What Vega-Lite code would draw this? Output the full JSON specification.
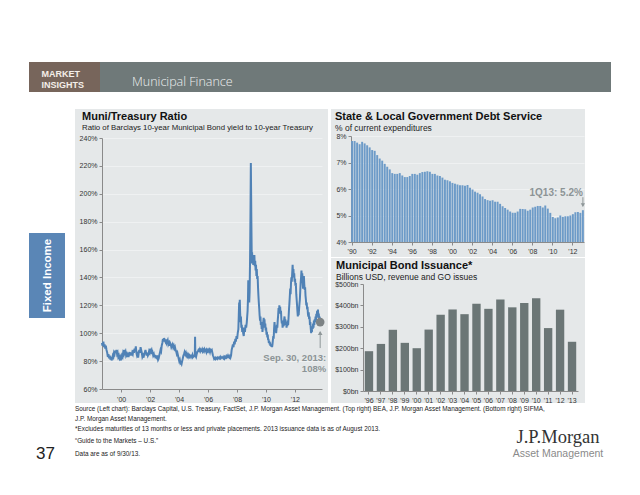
{
  "$schema": "https://vega.github.io/schema/vega-lite/v6.json",
  "padding": {"left": 29, "top": 62, "right": 0, "bottom": 0},
  "background": "#ffffff",
  "spacing": 17,
  "config": {
    "font": "Liberation Sans",
    "view": {"stroke": null},
    "axis": {"labelFont": "Liberation Sans", "labelFontSize": 7, "labelColor": "#333333", "domainColor": "#8a8a8a", "tickColor": "#8a8a8a", "tickSize": 3, "labelPadding": 2, "grid": false, "labelOverlap": false},
    "title": {"font": "Liberation Sans", "fontWeight": "bold", "fontSize": 11, "color": "#111111", "subtitleFont": "Liberation Sans", "subtitleFontSize": 8.5, "subtitleColor": "#222222", "subtitlePadding": 2, "anchor": "start", "frame": "group"}
  },
  "datasets": {
    "muni": [
      {"date":"1998-09-01","ratio":93},{"date":"1998-09-20","ratio":91},{"date":"1998-10-10","ratio":94},{"date":"1998-10-25","ratio":90},{"date":"1998-11-10","ratio":92},{"date":"1998-11-25","ratio":89},{"date":"1998-12-10","ratio":91},{"date":"1998-12-28","ratio":88},
      {"date":"1999-01-15","ratio":86},{"date":"1999-01-30","ratio":83},{"date":"1999-02-15","ratio":85},{"date":"1999-03-01","ratio":82},{"date":"1999-03-20","ratio":84},{"date":"1999-04-05","ratio":81},{"date":"1999-04-20","ratio":83},{"date":"1999-05-05","ratio":80.5},{"date":"1999-05-20","ratio":82},{"date":"1999-06-05","ratio":84},{"date":"1999-06-20","ratio":83},{"date":"1999-07-05","ratio":86},{"date":"1999-07-20","ratio":85},{"date":"1999-08-05","ratio":87.5},{"date":"1999-08-20","ratio":86},{"date":"1999-09-05","ratio":88},{"date":"1999-09-20","ratio":85},{"date":"1999-10-05","ratio":86},{"date":"1999-10-20","ratio":83},{"date":"1999-11-05","ratio":84},{"date":"1999-11-20","ratio":82},{"date":"1999-12-05","ratio":83},{"date":"1999-12-20","ratio":80.5},
      {"date":"2000-01-05","ratio":82},{"date":"2000-01-20","ratio":84},{"date":"2000-02-05","ratio":83},{"date":"2000-02-20","ratio":86},{"date":"2000-03-05","ratio":85},{"date":"2000-03-20","ratio":88},{"date":"2000-04-05","ratio":86},{"date":"2000-04-20","ratio":87},{"date":"2000-05-05","ratio":84},{"date":"2000-05-20","ratio":85},{"date":"2000-06-05","ratio":83},{"date":"2000-06-20","ratio":84.5},{"date":"2000-07-05","ratio":83},{"date":"2000-07-20","ratio":85},{"date":"2000-08-05","ratio":86.5},{"date":"2000-08-20","ratio":84},{"date":"2000-09-05","ratio":86},{"date":"2000-09-20","ratio":84},{"date":"2000-10-05","ratio":86},{"date":"2000-10-20","ratio":85},{"date":"2000-11-05","ratio":88},{"date":"2000-11-20","ratio":86},{"date":"2000-12-05","ratio":89},{"date":"2000-12-20","ratio":87},
      {"date":"2001-01-05","ratio":90.5},{"date":"2001-01-20","ratio":86},{"date":"2001-02-05","ratio":84},{"date":"2001-02-20","ratio":85},{"date":"2001-03-05","ratio":82.5},{"date":"2001-03-20","ratio":86},{"date":"2001-04-05","ratio":88},{"date":"2001-04-20","ratio":86},{"date":"2001-05-05","ratio":90},{"date":"2001-05-20","ratio":88},{"date":"2001-06-05","ratio":86},{"date":"2001-06-20","ratio":83},{"date":"2001-07-05","ratio":84},{"date":"2001-07-20","ratio":82.5},{"date":"2001-08-05","ratio":85},{"date":"2001-08-20","ratio":86},{"date":"2001-09-05","ratio":88},{"date":"2001-09-20","ratio":86},{"date":"2001-10-05","ratio":84},{"date":"2001-10-20","ratio":86},{"date":"2001-11-05","ratio":84},{"date":"2001-11-20","ratio":85},{"date":"2001-12-05","ratio":87},{"date":"2001-12-20","ratio":86},
      {"date":"2002-01-05","ratio":89},{"date":"2002-01-20","ratio":87},{"date":"2002-02-05","ratio":88},{"date":"2002-02-20","ratio":85},{"date":"2002-03-05","ratio":86},{"date":"2002-03-20","ratio":84},{"date":"2002-04-05","ratio":85},{"date":"2002-04-20","ratio":83},{"date":"2002-05-05","ratio":84.5},{"date":"2002-05-20","ratio":82},{"date":"2002-06-05","ratio":84},{"date":"2002-06-20","ratio":82.5},{"date":"2002-07-05","ratio":83},{"date":"2002-07-20","ratio":81},{"date":"2002-08-05","ratio":82},{"date":"2002-08-20","ratio":84},{"date":"2002-09-05","ratio":86},{"date":"2002-09-20","ratio":88},{"date":"2002-10-05","ratio":87},{"date":"2002-10-20","ratio":91},{"date":"2002-11-05","ratio":93},{"date":"2002-11-20","ratio":96},{"date":"2002-12-05","ratio":94},{"date":"2002-12-20","ratio":96.5},
      {"date":"2003-01-05","ratio":95},{"date":"2003-01-20","ratio":94},{"date":"2003-02-05","ratio":95.5},{"date":"2003-02-20","ratio":93},{"date":"2003-03-05","ratio":94},{"date":"2003-03-20","ratio":95},{"date":"2003-04-05","ratio":92},{"date":"2003-04-20","ratio":93},{"date":"2003-05-05","ratio":91},{"date":"2003-05-20","ratio":93},{"date":"2003-06-05","ratio":92},{"date":"2003-06-20","ratio":90},{"date":"2003-07-05","ratio":91},{"date":"2003-07-20","ratio":92},{"date":"2003-08-05","ratio":90},{"date":"2003-08-20","ratio":91},{"date":"2003-09-05","ratio":89},{"date":"2003-09-20","ratio":90},{"date":"2003-10-05","ratio":88},{"date":"2003-10-20","ratio":87},{"date":"2003-11-05","ratio":85},{"date":"2003-11-20","ratio":86},{"date":"2003-12-05","ratio":84},{"date":"2003-12-20","ratio":82},
      {"date":"2004-01-05","ratio":80},{"date":"2004-01-20","ratio":81},{"date":"2004-02-05","ratio":78.5},{"date":"2004-02-20","ratio":79},{"date":"2004-03-05","ratio":78},{"date":"2004-03-20","ratio":80},{"date":"2004-04-05","ratio":82},{"date":"2004-04-20","ratio":84},{"date":"2004-05-05","ratio":85},{"date":"2004-05-20","ratio":86.5},{"date":"2004-06-05","ratio":85},{"date":"2004-06-20","ratio":86},{"date":"2004-07-05","ratio":84},{"date":"2004-07-20","ratio":85},{"date":"2004-08-05","ratio":83.5},{"date":"2004-08-20","ratio":84.5},{"date":"2004-09-05","ratio":83},{"date":"2004-09-20","ratio":84},{"date":"2004-10-05","ratio":83},{"date":"2004-10-20","ratio":84},{"date":"2004-11-05","ratio":84},{"date":"2004-11-20","ratio":83},{"date":"2004-12-05","ratio":84.5},{"date":"2004-12-20","ratio":83},
      {"date":"2005-01-05","ratio":83.5},{"date":"2005-01-20","ratio":84},{"date":"2005-02-01","ratio":83},{"date":"2005-02-08","ratio":97.5},{"date":"2005-02-15","ratio":84},{"date":"2005-03-05","ratio":83},{"date":"2005-03-20","ratio":85},{"date":"2005-04-05","ratio":86.5},{"date":"2005-04-20","ratio":87},{"date":"2005-05-05","ratio":88},{"date":"2005-05-20","ratio":87.5},{"date":"2005-06-05","ratio":88.5},{"date":"2005-06-20","ratio":87},{"date":"2005-07-05","ratio":88},{"date":"2005-07-20","ratio":87.5},{"date":"2005-08-05","ratio":88.5},{"date":"2005-08-20","ratio":87},{"date":"2005-09-05","ratio":88},{"date":"2005-09-20","ratio":87},{"date":"2005-10-05","ratio":88.5},{"date":"2005-10-20","ratio":87.5},{"date":"2005-11-05","ratio":88},{"date":"2005-11-20","ratio":86.5},{"date":"2005-12-05","ratio":88},{"date":"2005-12-20","ratio":87},
      {"date":"2006-01-05","ratio":88},{"date":"2006-01-20","ratio":87},{"date":"2006-02-05","ratio":88},{"date":"2006-02-20","ratio":86.5},{"date":"2006-03-05","ratio":88},{"date":"2006-03-20","ratio":87.5},{"date":"2006-04-05","ratio":88},{"date":"2006-04-20","ratio":86},{"date":"2006-05-05","ratio":84},{"date":"2006-05-20","ratio":83},{"date":"2006-06-05","ratio":81.5},{"date":"2006-06-20","ratio":82},{"date":"2006-07-05","ratio":81.5},{"date":"2006-07-20","ratio":82.5},{"date":"2006-08-05","ratio":82},{"date":"2006-08-20","ratio":81.5},{"date":"2006-09-05","ratio":82.5},{"date":"2006-09-20","ratio":82},{"date":"2006-10-05","ratio":82.5},{"date":"2006-10-20","ratio":82},{"date":"2006-11-05","ratio":83},{"date":"2006-11-20","ratio":82},{"date":"2006-12-05","ratio":82.5},{"date":"2006-12-20","ratio":83},
      {"date":"2007-01-05","ratio":82.5},{"date":"2007-01-20","ratio":82},{"date":"2007-02-05","ratio":83},{"date":"2007-02-20","ratio":82},{"date":"2007-03-05","ratio":83},{"date":"2007-03-20","ratio":82.5},{"date":"2007-04-05","ratio":83.5},{"date":"2007-04-20","ratio":82.5},{"date":"2007-05-05","ratio":83},{"date":"2007-05-20","ratio":84},{"date":"2007-06-05","ratio":83},{"date":"2007-06-20","ratio":82.5},{"date":"2007-07-05","ratio":83.5},{"date":"2007-07-20","ratio":82.5},{"date":"2007-08-05","ratio":84},{"date":"2007-08-20","ratio":88},{"date":"2007-09-05","ratio":90},{"date":"2007-09-20","ratio":92},{"date":"2007-10-05","ratio":90},{"date":"2007-10-20","ratio":94},{"date":"2007-11-05","ratio":92},{"date":"2007-11-20","ratio":96},{"date":"2007-12-05","ratio":94},{"date":"2007-12-20","ratio":98},
      {"date":"2008-01-05","ratio":96},{"date":"2008-01-20","ratio":100},{"date":"2008-02-05","ratio":103},{"date":"2008-02-15","ratio":112},{"date":"2008-02-25","ratio":122},{"date":"2008-03-05","ratio":118},{"date":"2008-03-12","ratio":124},{"date":"2008-03-20","ratio":115},{"date":"2008-04-01","ratio":108},{"date":"2008-04-10","ratio":112},{"date":"2008-04-20","ratio":104},{"date":"2008-05-01","ratio":106},{"date":"2008-05-12","ratio":101},{"date":"2008-05-25","ratio":104},{"date":"2008-06-05","ratio":100},{"date":"2008-06-20","ratio":98},{"date":"2008-07-05","ratio":104},{"date":"2008-07-20","ratio":101},{"date":"2008-08-05","ratio":106},{"date":"2008-08-20","ratio":104},{"date":"2008-09-05","ratio":108},{"date":"2008-09-15","ratio":112},{"date":"2008-09-25","ratio":116},{"date":"2008-10-05","ratio":125},{"date":"2008-10-12","ratio":138},{"date":"2008-10-20","ratio":128},{"date":"2008-10-28","ratio":133},{"date":"2008-11-05","ratio":122},{"date":"2008-11-15","ratio":130},{"date":"2008-11-25","ratio":150},{"date":"2008-12-02","ratio":170},{"date":"2008-12-09","ratio":195},{"date":"2008-12-16","ratio":222},{"date":"2008-12-23","ratio":200},{"date":"2008-12-29","ratio":180},
      {"date":"2009-01-09","ratio":150},{"date":"2009-01-16","ratio":158},{"date":"2009-01-25","ratio":152},{"date":"2009-02-05","ratio":156},{"date":"2009-02-15","ratio":149},{"date":"2009-02-25","ratio":154},{"date":"2009-03-05","ratio":150},{"date":"2009-03-15","ratio":156},{"date":"2009-03-25","ratio":148},{"date":"2009-04-05","ratio":152},{"date":"2009-04-15","ratio":145},{"date":"2009-04-25","ratio":149},{"date":"2009-05-05","ratio":141},{"date":"2009-05-15","ratio":146},{"date":"2009-05-25","ratio":139},{"date":"2009-06-05","ratio":141},{"date":"2009-06-15","ratio":133},{"date":"2009-06-25","ratio":127},{"date":"2009-07-05","ratio":122},{"date":"2009-07-15","ratio":118},{"date":"2009-07-25","ratio":113},{"date":"2009-08-05","ratio":109},{"date":"2009-08-15","ratio":112},{"date":"2009-08-25","ratio":106},{"date":"2009-09-05","ratio":108},{"date":"2009-09-15","ratio":103},{"date":"2009-09-25","ratio":106},{"date":"2009-10-05","ratio":101},{"date":"2009-10-15","ratio":104},{"date":"2009-10-25","ratio":108},{"date":"2009-11-05","ratio":111},{"date":"2009-11-15","ratio":106},{"date":"2009-11-25","ratio":110},{"date":"2009-12-05","ratio":104},{"date":"2009-12-15","ratio":107},{"date":"2009-12-25","ratio":102},
      {"date":"2010-01-05","ratio":104},{"date":"2010-01-15","ratio":99},{"date":"2010-01-25","ratio":101},{"date":"2010-02-05","ratio":97},{"date":"2010-02-15","ratio":99},{"date":"2010-02-25","ratio":95},{"date":"2010-03-05","ratio":96},{"date":"2010-03-15","ratio":93},{"date":"2010-03-25","ratio":94.5},{"date":"2010-04-05","ratio":92},{"date":"2010-04-15","ratio":93.5},{"date":"2010-04-25","ratio":91},{"date":"2010-05-05","ratio":92},{"date":"2010-05-15","ratio":90.5},{"date":"2010-05-25","ratio":91.5},{"date":"2010-06-05","ratio":90},{"date":"2010-06-15","ratio":92},{"date":"2010-06-25","ratio":95},{"date":"2010-07-05","ratio":98},{"date":"2010-07-15","ratio":96},{"date":"2010-07-25","ratio":103},{"date":"2010-08-05","ratio":108},{"date":"2010-08-15","ratio":104},{"date":"2010-08-25","ratio":101},{"date":"2010-09-05","ratio":104},{"date":"2010-09-15","ratio":100},{"date":"2010-09-25","ratio":103},{"date":"2010-10-05","ratio":106},{"date":"2010-10-15","ratio":104},{"date":"2010-10-25","ratio":109},{"date":"2010-11-05","ratio":113},{"date":"2010-11-15","ratio":118},{"date":"2010-11-25","ratio":114},{"date":"2010-12-05","ratio":120},{"date":"2010-12-15","ratio":116},{"date":"2010-12-25","ratio":119},
      {"date":"2011-01-05","ratio":114},{"date":"2011-01-15","ratio":116},{"date":"2011-01-25","ratio":110},{"date":"2011-02-05","ratio":107},{"date":"2011-02-15","ratio":109},{"date":"2011-02-25","ratio":104},{"date":"2011-03-05","ratio":106},{"date":"2011-03-15","ratio":108},{"date":"2011-03-25","ratio":105},{"date":"2011-04-05","ratio":110},{"date":"2011-04-15","ratio":112},{"date":"2011-04-25","ratio":108},{"date":"2011-05-05","ratio":110},{"date":"2011-05-15","ratio":106},{"date":"2011-05-25","ratio":108},{"date":"2011-06-05","ratio":104},{"date":"2011-06-15","ratio":107},{"date":"2011-06-25","ratio":105},{"date":"2011-07-05","ratio":109},{"date":"2011-07-15","ratio":106},{"date":"2011-07-25","ratio":111},{"date":"2011-08-05","ratio":117},{"date":"2011-08-15","ratio":121},{"date":"2011-08-25","ratio":126},{"date":"2011-09-05","ratio":132},{"date":"2011-09-15","ratio":128},{"date":"2011-09-25","ratio":136},{"date":"2011-10-05","ratio":140},{"date":"2011-10-15","ratio":137},{"date":"2011-10-25","ratio":143},{"date":"2011-11-05","ratio":149},{"date":"2011-11-15","ratio":142},{"date":"2011-11-25","ratio":146},{"date":"2011-12-05","ratio":140},{"date":"2011-12-15","ratio":143},{"date":"2011-12-25","ratio":137},
      {"date":"2012-01-05","ratio":139},{"date":"2012-01-15","ratio":134},{"date":"2012-01-25","ratio":136},{"date":"2012-02-05","ratio":128},{"date":"2012-02-15","ratio":124},{"date":"2012-02-25","ratio":120},{"date":"2012-03-05","ratio":116},{"date":"2012-03-15","ratio":112},{"date":"2012-03-25","ratio":115},{"date":"2012-04-05","ratio":113},{"date":"2012-04-15","ratio":117},{"date":"2012-04-25","ratio":121},{"date":"2012-05-05","ratio":124},{"date":"2012-05-15","ratio":130},{"date":"2012-05-25","ratio":136},{"date":"2012-06-05","ratio":140},{"date":"2012-06-15","ratio":145},{"date":"2012-06-25","ratio":139},{"date":"2012-07-05","ratio":143},{"date":"2012-07-15","ratio":137},{"date":"2012-07-25","ratio":132},{"date":"2012-08-05","ratio":138},{"date":"2012-08-15","ratio":141},{"date":"2012-08-25","ratio":135},{"date":"2012-09-05","ratio":131},{"date":"2012-09-15","ratio":133},{"date":"2012-09-25","ratio":127},{"date":"2012-10-05","ratio":124},{"date":"2012-10-15","ratio":120},{"date":"2012-10-25","ratio":122},{"date":"2012-11-05","ratio":117},{"date":"2012-11-15","ratio":119},{"date":"2012-11-25","ratio":114},{"date":"2012-12-05","ratio":112},{"date":"2012-12-15","ratio":115},{"date":"2012-12-25","ratio":110},
      {"date":"2013-01-05","ratio":112},{"date":"2013-01-15","ratio":106},{"date":"2013-01-25","ratio":108},{"date":"2013-02-05","ratio":103},{"date":"2013-02-15","ratio":100},{"date":"2013-02-25","ratio":104},{"date":"2013-03-05","ratio":101},{"date":"2013-03-15","ratio":105},{"date":"2013-03-25","ratio":103},{"date":"2013-04-05","ratio":107},{"date":"2013-04-15","ratio":104},{"date":"2013-04-25","ratio":109},{"date":"2013-05-05","ratio":106},{"date":"2013-05-15","ratio":110},{"date":"2013-05-25","ratio":108},{"date":"2013-06-05","ratio":112},{"date":"2013-06-15","ratio":109},{"date":"2013-06-25","ratio":114},{"date":"2013-07-05","ratio":111},{"date":"2013-07-15","ratio":116},{"date":"2013-07-25","ratio":113},{"date":"2013-08-05","ratio":117},{"date":"2013-08-15","ratio":112},{"date":"2013-08-25","ratio":114},{"date":"2013-09-05","ratio":110},{"date":"2013-09-15","ratio":112},{"date":"2013-09-30","ratio":108}
    ],
    "debt": [
      {"q":"1990-Q1","v":7.81},{"q":"1990-Q2","v":7.81},{"q":"1990-Q3","v":7.75},{"q":"1990-Q4","v":7.69},
      {"q":"1991-Q1","v":7.78},{"q":"1991-Q2","v":7.72},{"q":"1991-Q3","v":7.65},{"q":"1991-Q4","v":7.57},
      {"q":"1992-Q1","v":7.47},{"q":"1992-Q2","v":7.44},{"q":"1992-Q3","v":7.28},{"q":"1992-Q4","v":7.15},
      {"q":"1993-Q1","v":7.07},{"q":"1993-Q2","v":6.95},{"q":"1993-Q3","v":6.84},{"q":"1993-Q4","v":6.74},
      {"q":"1994-Q1","v":6.6},{"q":"1994-Q2","v":6.57},{"q":"1994-Q3","v":6.57},{"q":"1994-Q4","v":6.6},
      {"q":"1995-Q1","v":6.51},{"q":"1995-Q2","v":6.45},{"q":"1995-Q3","v":6.45},{"q":"1995-Q4","v":6.49},
      {"q":"1996-Q1","v":6.57},{"q":"1996-Q2","v":6.57},{"q":"1996-Q3","v":6.54},{"q":"1996-Q4","v":6.6},
      {"q":"1997-Q1","v":6.64},{"q":"1997-Q2","v":6.65},{"q":"1997-Q3","v":6.67},{"q":"1997-Q4","v":6.65},
      {"q":"1998-Q1","v":6.57},{"q":"1998-Q2","v":6.57},{"q":"1998-Q3","v":6.51},{"q":"1998-Q4","v":6.49},
      {"q":"1999-Q1","v":6.43},{"q":"1999-Q2","v":6.35},{"q":"1999-Q3","v":6.33},{"q":"1999-Q4","v":6.29},
      {"q":"2000-Q1","v":6.23},{"q":"2000-Q2","v":6.2},{"q":"2000-Q3","v":6.17},{"q":"2000-Q4","v":6.14},
      {"q":"2001-Q1","v":6.14},{"q":"2001-Q2","v":6.12},{"q":"2001-Q3","v":6.15},{"q":"2001-Q4","v":6.05},
      {"q":"2002-Q1","v":5.98},{"q":"2002-Q2","v":5.9},{"q":"2002-Q3","v":5.86},{"q":"2002-Q4","v":5.8},
      {"q":"2003-Q1","v":5.72},{"q":"2003-Q2","v":5.62},{"q":"2003-Q3","v":5.58},{"q":"2003-Q4","v":5.56},
      {"q":"2004-Q1","v":5.58},{"q":"2004-Q2","v":5.52},{"q":"2004-Q3","v":5.52},{"q":"2004-Q4","v":5.44},
      {"q":"2005-Q1","v":5.35},{"q":"2005-Q2","v":5.28},{"q":"2005-Q3","v":5.22},{"q":"2005-Q4","v":5.15},
      {"q":"2006-Q1","v":5.1},{"q":"2006-Q2","v":5.1},{"q":"2006-Q3","v":5.15},{"q":"2006-Q4","v":5.25},
      {"q":"2007-Q1","v":5.25},{"q":"2007-Q2","v":5.24},{"q":"2007-Q3","v":5.18},{"q":"2007-Q4","v":5.22},
      {"q":"2008-Q1","v":5.3},{"q":"2008-Q2","v":5.33},{"q":"2008-Q3","v":5.36},{"q":"2008-Q4","v":5.36},
      {"q":"2009-Q1","v":5.3},{"q":"2009-Q2","v":5.38},{"q":"2009-Q3","v":5.26},{"q":"2009-Q4","v":5.1},
      {"q":"2010-Q1","v":4.94},{"q":"2010-Q2","v":4.9},{"q":"2010-Q3","v":4.92},{"q":"2010-Q4","v":5.0},
      {"q":"2011-Q1","v":4.95},{"q":"2011-Q2","v":4.97},{"q":"2011-Q3","v":4.97},{"q":"2011-Q4","v":5.0},
      {"q":"2012-Q1","v":5.05},{"q":"2012-Q2","v":5.12},{"q":"2012-Q3","v":5.13},{"q":"2012-Q4","v":5.1},
      {"q":"2013-Q1","v":5.2}
    ],
    "issuance": [
      {"year":"1996","bn":186},{"year":"1997","bn":220},{"year":"1998","bn":286},{"year":"1999","bn":225},{"year":"2000","bn":200},{"year":"2001","bn":287},{"year":"2002","bn":356},{"year":"2003","bn":381},{"year":"2004","bn":359},{"year":"2005","bn":408},{"year":"2006","bn":384},{"year":"2007","bn":427},{"year":"2008","bn":391},{"year":"2009","bn":411},{"year":"2010","bn":433},{"year":"2011","bn":294},{"year":"2012","bn":380},{"year":"2013","bn":230}
    ]
  },
  "vconcat": [
    {
      "hconcat": [
        {
          "width": 71, "height": 30,
          "data": {"values": [{"brand": "MARKET\nINSIGHTS"}]},
          "layer": [
            {"mark": {"type": "rect", "color": "#77655b"}, "encoding": {}},
            {"mark": {"type": "text", "align": "left", "baseline": "middle", "dx": -23, "dy": -3, "lineBreak": "\n", "lineHeight": 11, "font": "Liberation Sans", "fontWeight": "bold", "fontSize": 9, "color": "#f4eee9"}, "encoding": {"text": {"field": "brand"}}}
          ]
        },
        {
          "width": 511, "height": 30,
          "data": {"values": [{"section": "Municipal Finance"}]},
          "title": {"text": "Municipal Finance", "font": "Open Sans", "fontWeight": 300, "fontSize": 12.5, "color": "#eef0f0", "orient": "top", "anchor": "start", "frame": "group", "offset": -26, "dx": 32},
          "mark": {"type": "rect", "color": "#6f7979"},
          "encoding": {}
        }
      ],
      "spacing": 0
    },
    {
      "vconcat": [
        {
          "hconcat": [
            {
              "vconcat": [
                {
                  "width": 36, "height": 124,
                  "data": {"values": [{"section": "Fixed Income"}]},
                  "mark": {"type": "rect", "color": "#ffffff", "opacity": 0},
                  "encoding": {}
                },
                {
                  "width": 36, "height": 85,
                  "data": {"values": [{"section": "Fixed Income"}]},
                  "title": {"text": "Fixed Income", "orient": "left", "anchor": "middle", "frame": "group", "offset": -24, "font": "Liberation Sans", "fontWeight": "bold", "fontSize": 11.5, "color": "#ffffff"},
                  "mark": {"type": "rect", "color": "#5a86b6"},
                  "encoding": {}
                }
              ],
              "spacing": 0
            },
            {
              "hconcat": [
                {
                  "width": 253, "height": 294,
                  "view": {"fill": "#e5e8e9", "stroke": null},
                  "title": {"text": "Muni/Treasury Ratio", "subtitle": "Ratio of Barclays 10-year Municipal Bond yield to 10-year Treasury", "subtitleFontSize": 7.8, "offset": -22.5, "dx": 7},
                  "encoding": {
                    "x": {"field": "date", "type": "temporal", "title": null,
                      "scale": {"domain": [{"year": 1998, "month": 9, "date": 5}, {"year": 2013, "month": 11, "date": 15}], "range": [27, 247]},
                      "axis": {"offset": -14, "tickCount": {"interval": "year", "step": 2}, "format": "'%y", "labelFlush": false, "labelOverlap": false, "labelPadding": 3}},
                    "y": {"field": "ratio", "type": "quantitative", "title": null,
                      "scale": {"domain": [60, 240], "range": [280, 29], "nice": false, "zero": false},
                      "axis": {"offset": -27, "values": [60, 80, 100, 120, 140, 160, 180, 200, 220, 240], "labelExpr": "datum.value + '%'", "labelOverlap": false, "labelSeparation": 0, "grid": true, "gridColor": "#ffffff", "gridOpacity": 0.4}}
                  },
                  "layer": [
                    {
                      "data": {"name": "muni"},
                      "mark": {"type": "line", "color": "#5082b6", "strokeWidth": 2}
                    },
                    {
                      "data": {"values": [{"date": "2013-09-30", "ratio": 108, "label": "Sep. 30, 2013:\n108%"}]},
                      "layer": [
                        {"mark": {"type": "rule", "color": "#8f9799", "strokeWidth": 1, "yOffset": 10, "y2Offset": 26}, "encoding": {"y2": {"field": "ratio"}}},
                        {"mark": {"type": "point", "shape": "triangle-up", "filled": true, "size": 22, "color": "#8f9799", "opacity": 1, "yOffset": 11}},
                        {"mark": {"type": "point", "filled": true, "size": 75, "color": "#7d8385", "opacity": 1}},
                        {"mark": {"type": "text", "align": "right", "baseline": "top", "dx": 6, "dy": 31, "lineBreak": "\n", "lineHeight": 10.5, "fontWeight": "bold", "fontSize": 9.5, "color": "#8c9496"}, "encoding": {"text": {"field": "label"}}}
                      ]
                    }
                  ]
                },
                {
                  "vconcat": [
                    {
                      "width": 254, "height": 148,
                      "view": {"fill": "#e5e8e9", "stroke": null},
                      "title": {"text": "State & Local Government Debt Service", "subtitle": "% of current expenditures", "offset": -23, "dx": 4},
                      "encoding": {
                        "x": {"field": "q", "type": "ordinal", "title": null,
                          "scale": {"range": [20, 253], "paddingInner": 0.22, "paddingOuter": 0.05},
                          "axis": {"offset": -15, "values": ["1990-Q1","1992-Q1","1994-Q1","1996-Q1","1998-Q1","2000-Q1","2002-Q1","2004-Q1","2006-Q1","2008-Q1","2010-Q1","2012-Q1"], "labelExpr": "\"'\" + substring(datum.value, 2, 4)", "labelAngle": 0, "labelOverlap": false, "labelPadding": 2}},
                        "y": {"field": "v", "type": "quantitative", "title": null,
                          "scale": {"domain": [4, 8], "range": [133, 27], "nice": false, "zero": false},
                          "axis": {"offset": -20, "values": [4, 5, 6, 7, 8], "labelExpr": "datum.value + '%'", "labelOverlap": false, "labelSeparation": 0, "grid": true, "gridColor": "#ffffff", "gridOpacity": 0.4}}
                      },
                      "layer": [
                        {
                          "data": {"name": "debt"},
                          "mark": {"type": "bar", "color": "#6d9bc8"},
                          "encoding": {"y2": {"datum": 4}}
                        },
                        {
                          "data": {"values": [{"q": "2013-Q1", "v": 5.2, "label": "1Q13: 5.2%"}]},
                          "layer": [
                            {"mark": {"type": "rule", "color": "#8f9799", "strokeWidth": 1, "yOffset": -4, "y2Offset": -13}, "encoding": {"y2": {"field": "v"}}},
                            {"mark": {"type": "point", "shape": "triangle-down", "filled": true, "size": 18, "color": "#8f9799", "opacity": 1, "yOffset": -5}},
                            {"mark": {"type": "text", "align": "right", "baseline": "middle", "dx": 0, "dy": -17, "fontWeight": "bold", "fontSize": 10, "color": "#8c9496"}, "encoding": {"text": {"field": "label"}}}
                          ]
                        }
                      ]
                    },
                    {
                      "width": 254, "height": 145,
                      "view": {"fill": "#e5e8e9", "stroke": null},
                      "title": {"text": "Municipal Bond Issuance*", "subtitle": "Billions USD, revenue and GO issues", "offset": -23, "dx": 5},
                      "data": {"name": "issuance"},
                      "mark": {"type": "bar", "color": "#6b7676"},
                      "encoding": {
                        "x": {"field": "year", "type": "ordinal", "title": null,
                          "scale": {"range": [32, 247], "paddingInner": 0.3, "paddingOuter": 0.15},
                          "axis": {"offset": -12, "labelExpr": "\"'\" + substring(datum.value, 2, 4)", "labelAngle": 0, "labelOverlap": false, "labelPadding": 2}},
                        "y": {"field": "bn", "type": "quantitative", "title": null,
                          "scale": {"domain": [0, 500], "range": [133, 26], "nice": false},
                          "axis": {"offset": -32, "values": [0, 100, 200, 300, 400, 500], "labelOverlap": false, "labelExpr": "'$' + datum.value + 'bn'"}}
                      }
                    }
                  ],
                  "spacing": 1
                }
              ],
              "spacing": 3
            }
          ],
          "spacing": 10
        },
        {
          "hconcat": [
            {
              "width": 46, "height": 60,
              "data": {"values": [{"page": "37"}]},
              "title": {"text": "37", "orient": "bottom", "anchor": "start", "frame": "group", "offset": -18, "dx": 7, "font": "Liberation Sans", "fontWeight": "normal", "fontSize": 17, "color": "#222222"},
              "mark": {"type": "rect", "color": "#ffffff", "opacity": 0},
              "encoding": {}
            },
            {
              "width": 441, "height": 60,
              "data": {"values": [{"note": "footnotes"}]},
              "title": {
                "text": ["Source (Left chart): Barclays Capital, U.S. Treasury, FactSet, J.P. Morgan Asset Management. (Top right) BEA, J.P. Morgan Asset Management. (Bottom right) SIFMA,", "J.P. Morgan Asset Management."],
                "subtitle": ["*Excludes maturities of 13 months or less and private placements. 2013 issuance data is as of August 2013.", "\u201cGuide to the Markets \u2013 U.S.\u201d", "Data are as of 9/30/13."],
                "orient": "bottom", "anchor": "start", "frame": "group", "offset": -58, "dx": 0, "limit": 600,
                "font": "Liberation Sans", "fontWeight": "normal", "fontSize": 6.4, "color": "#222222", "lineHeight": 9.5,
                "subtitleFont": "Liberation Sans", "subtitleFontSize": 6.4, "subtitleColor": "#222222", "subtitleLineHeight": 12.5, "subtitlePadding": 4
              },
              "mark": {"type": "rect", "color": "#ffffff", "opacity": 0},
              "encoding": {}
            },
            {
              "width": 84, "height": 60,
              "data": {"values": [{"brand": "J.P.Morgan"}]},
              "title": {"text": "J.P.Morgan", "subtitle": "Asset Management", "orient": "bottom", "anchor": "middle", "frame": "group", "offset": -36,
                "font": "Liberation Serif", "fontWeight": "normal", "fontSize": 18.5, "color": "#333333",
                "subtitleFont": "Liberation Sans", "subtitleFontSize": 10.5, "subtitleColor": "#8a8a8a", "subtitlePadding": 2},
              "mark": {"type": "rect", "color": "#ffffff", "opacity": 0},
              "encoding": {}
            }
          ],
          "spacing": 0,
          "bounds": "flush"
        }
      ],
      "spacing": 1
    }
  ]
}
